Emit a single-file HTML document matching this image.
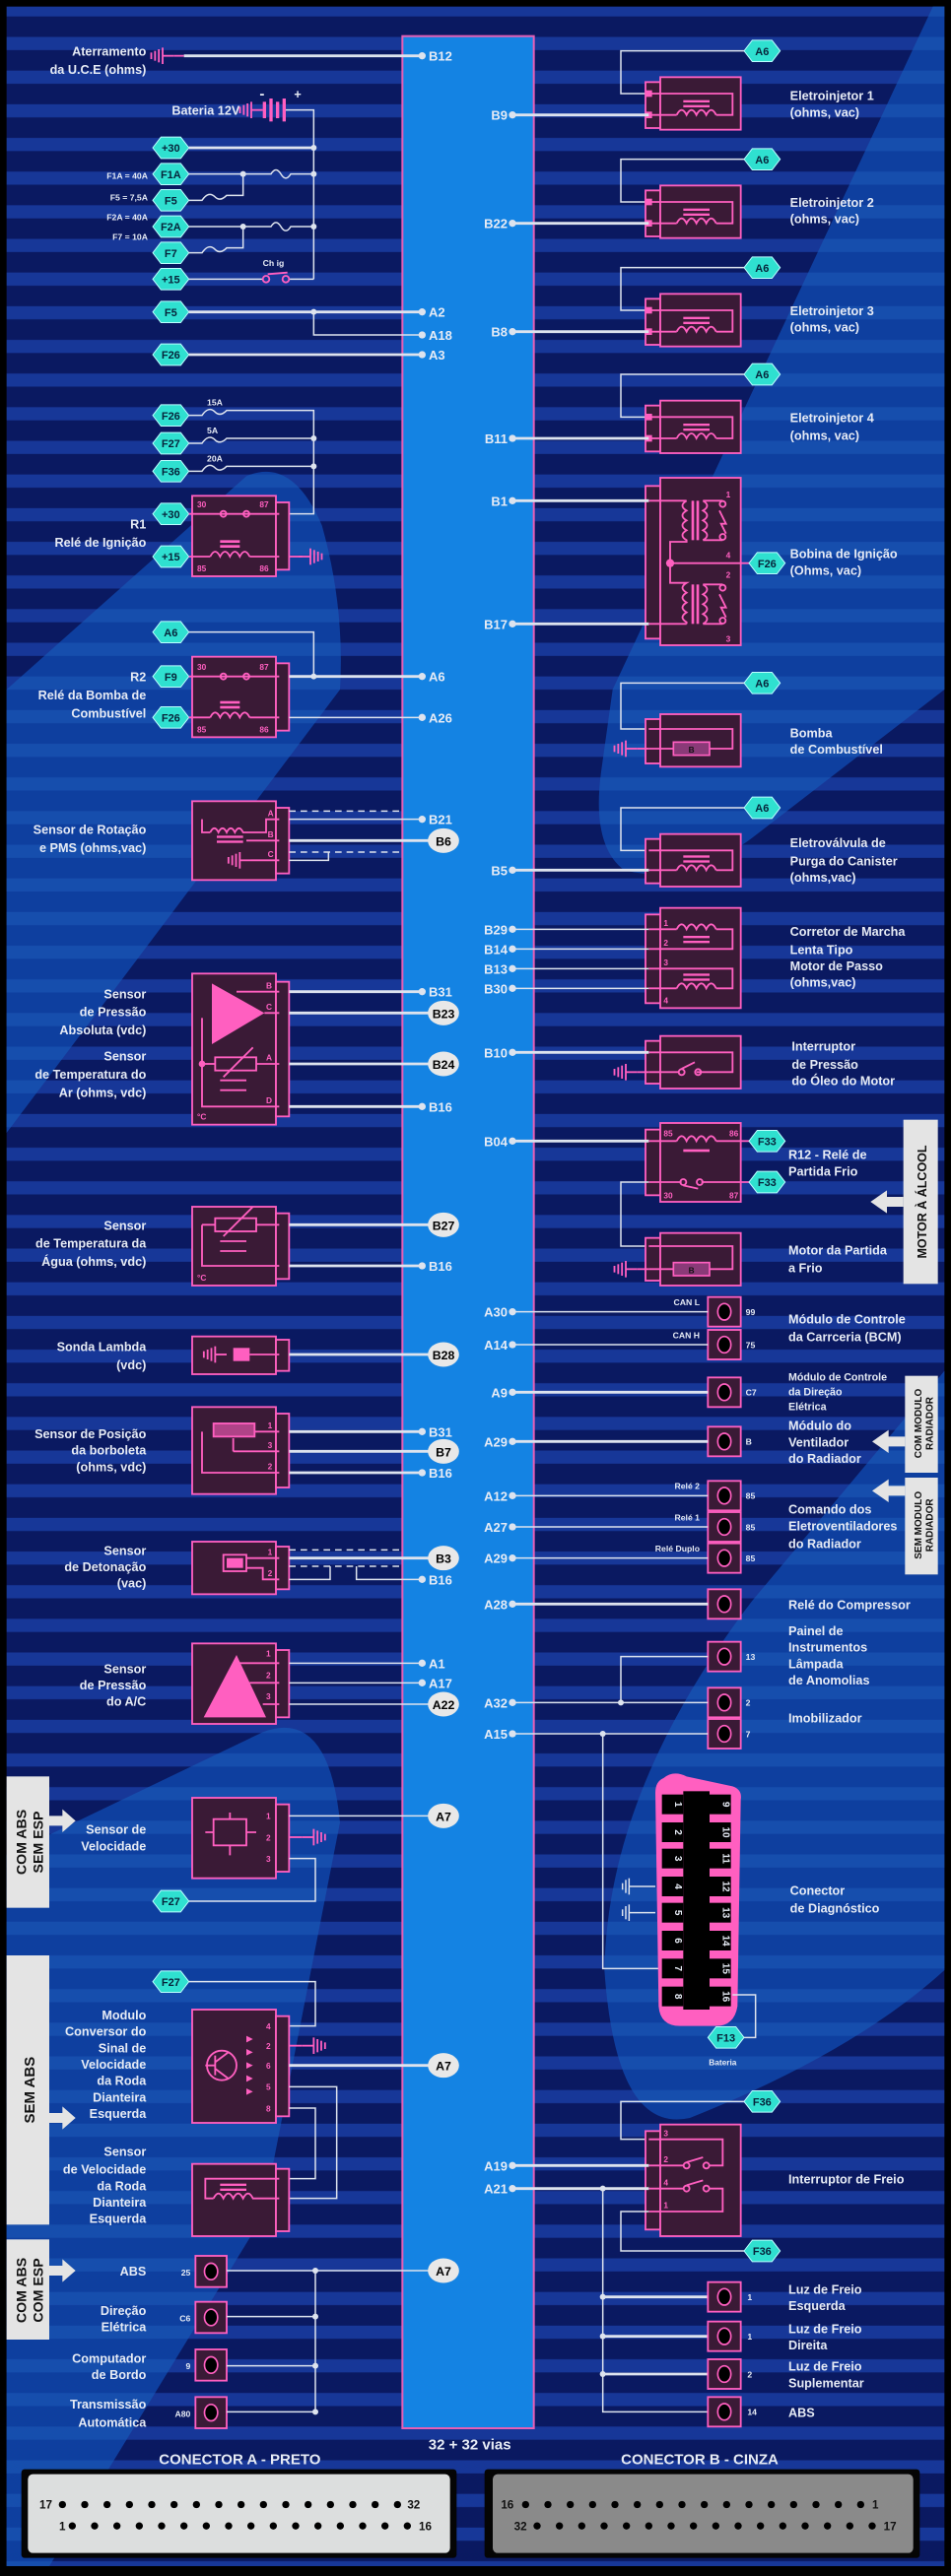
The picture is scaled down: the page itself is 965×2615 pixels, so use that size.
<!DOCTYPE html>
<html><head><meta charset="utf-8">
<style>
html,body{margin:0;padding:0;background:#000;}
svg{display:block;}
.bx{fill:#3a1a36;stroke:#ff5fc0;stroke-width:1.1}
.pk{stroke:#ff5fc0;fill:none;stroke-width:1.1}
.pf{fill:#ff5fc0}
.w{stroke:#dde3ee;stroke-width:1.7;fill:none}
.wt{stroke:#dde3ee;stroke-width:0.9;fill:none}
.dash{stroke:#dde3ee;stroke-width:0.9;fill:none;stroke-dasharray:4 3}
text{font-family:"Liberation Sans",Arial,sans-serif;font-weight:bold;fill:#e6ebf5}
.l{font-size:7.6px}
.le{font-size:7.6px;text-anchor:end}
.s{font-size:5.2px}
.se{font-size:5.2px;text-anchor:end}
.p{font-size:7.8px}
.pe{font-size:7.8px;text-anchor:end}
.h{font-size:6.6px;fill:#06233a;text-anchor:middle}
.c{font-size:7.4px;fill:#000;text-anchor:middle}
.pn{font-size:5px;fill:#ff5fc0}
.dot{fill:#dde3ee}
</style></head>
<body>
<svg width="965" height="2615" viewBox="0 0 579 1569" preserveAspectRatio="none" xmlns="http://www.w3.org/2000/svg">
<defs>
<pattern id="st" patternUnits="userSpaceOnUse" width="579" height="20.5"><rect width="579" height="20.5" fill="#0a1961"/><rect y="2" width="579" height="8" fill="#173798"/></pattern>
<pattern id="st2" patternUnits="userSpaceOnUse" width="579" height="20.5"><rect width="579" height="20.5" fill="#0e3f9f"/><rect y="2" width="579" height="8" fill="#164ead"/></pattern>
<polygon id="hx" points="-11,0 -6,-6.5 6,-6.5 11,0 6,6.5 -6,6.5" fill="#2fe0d0" stroke="#bff" stroke-width="0.6"/>
<g id="gL"><line x1="0" y1="0" x2="7" y2="0" class="pk"/><line x1="0" y1="-5" x2="0" y2="5" class="pk"/><line x1="-2.3" y1="-4" x2="-2.3" y2="4" class="pk"/><line x1="-4.6" y1="-3" x2="-4.6" y2="3" class="pk"/><line x1="-6.9" y1="-2" x2="-6.9" y2="2" class="pk"/></g>
<g id="coil"><path d="M0,0 q3,-6 6,0 q3,-6 6,0 q3,-6 6,0 q3,-6 6,0" class="pk"/><rect x="6" y="-10" width="12" height="1.6" class="pf"/><rect x="6" y="-7" width="12" height="1.6" class="pf"/></g>
</defs>

<rect width="579" height="1569" fill="#000"/>
<rect x="4" y="4" width="571" height="1559" fill="url(#st)"/>
<!-- lighter regions -->
<path d="M568,4 L575,4 L575,420 L461,508 Q420,540 380,530 Q360,515 366,470 L373,420 Z" fill="url(#st2)"/>
<path d="M575,835 L458,975 Q370,1090 368,1200 Q375,1300 420,1290 Q520,1250 575,1200 Z" fill="url(#st2)"/>
<path d="M4,420 L150,290 Q178,278 196,320 Q210,370 207,420 L4,690 Z" fill="url(#st2)"/>
<path d="M4,1130 L160,1055 Q200,1040 207,1110 L160,1350 L30,1563 L4,1563 Z" fill="url(#st2)"/>

<!-- bus -->
<rect x="245" y="22" width="80" height="1457" fill="#1483e3" stroke="#e65fb5" stroke-width="1.2"/>

<!-- ===== LEFT TOP ===== -->
<text class="le" x="89" y="34">Aterramento</text>
<text class="le" x="89" y="45">da  U.C.E (ohms)</text>
<use href="#gL" x="99" y="34"/>
<line x1="106" y1="34" x2="112" y2="34" class="pk" stroke-width="1.6"/>
<line x1="112" y1="34" x2="257" y2="34" class="w"/>
<circle cx="257" cy="34" r="2.2" class="dot"/><text class="p" x="261" y="37">B12</text>

<text class="le" x="146" y="70">Bateria 12V</text>
<use href="#gL" x="153" y="67"/>
<rect x="160" y="62" width="2" height="10" class="pf"/><rect x="164" y="60" width="2" height="14" class="pf"/><rect x="168" y="62" width="2" height="10" class="pf"/><rect x="172" y="60" width="2" height="14" class="pf"/>
<text class="l" x="158" y="60" style="font-size:9px">-</text><text class="l" x="179" y="60">+</text>
<path d="M174,67 L191,67 L191,170" class="wt"/>
<use href="#hx" x="104" y="90"/><text class="h" x="104" y="92.5">+30</text>
<line x1="115" y1="90" x2="191" y2="90" class="w"/>
<use href="#hx" x="104" y="106"/><text class="h" x="104" y="108.5">F1A</text>
<path d="M115,106 L165,106 q3,-5 6,0 q3,5 6,0 L191,106" class="wt"/>
<use href="#hx" x="104" y="122"/><text class="h" x="104" y="124.5">F5</text>
<path d="M115,122 L123,122 q4,-6 8,-2 q3,3 7,-1 L148,119 L148,106" class="wt"/>
<use href="#hx" x="104" y="138"/><text class="h" x="104" y="140.5">F2A</text>
<path d="M115,138 L165,138 q3,-5 6,0 q3,5 6,0 L191,138" class="wt"/>
<use href="#hx" x="104" y="154"/><text class="h" x="104" y="156.5">F7</text>
<path d="M115,154 L123,154 q4,-6 8,-2 q3,3 7,-1 L148,151 L148,138" class="wt"/>
<use href="#hx" x="104" y="170"/><text class="h" x="104" y="172.5">+15</text>
<path d="M115,170 L160,170 M176,170 L191,170" class="wt"/>
<circle cx="162" cy="170" r="2" class="pk"/><circle cx="174" cy="170" r="2" class="pk"/><line x1="163" y1="167" x2="175" y2="166" class="pk"/>
<text class="s" x="160" y="162">Ch ig</text>
<circle cx="191" cy="90" r="1.8" class="dot"/><circle cx="191" cy="106" r="1.8" class="dot"/><circle cx="191" cy="138" r="1.8" class="dot"/><circle cx="148" cy="106" r="1.8" class="dot"/><circle cx="148" cy="138" r="1.8" class="dot"/>
<text class="se" x="90" y="109">F1A = 40A</text><text class="se" x="90" y="122">F5 = 7,5A</text><text class="se" x="90" y="134">F2A = 40A</text><text class="se" x="90" y="146">F7 = 10A</text>

<use href="#hx" x="104" y="190"/><text class="h" x="104" y="192.5">F5</text>
<path d="M115,190 L257,190 M191,190 L191,204 L257,204" class="wt"/><path d="M115,190 L257,190" class="w"/>
<circle cx="191" cy="190" r="1.8" class="dot"/>
<circle cx="257" cy="190" r="2.2" class="dot"/><text class="p" x="261" y="193">A2</text>
<circle cx="257" cy="204" r="2.2" class="dot"/><text class="p" x="261" y="207">A18</text>
<use href="#hx" x="104" y="216"/><text class="h" x="104" y="218.5">F26</text>
<line x1="115" y1="216" x2="257" y2="216" class="w"/>
<circle cx="257" cy="216" r="2.2" class="dot"/><text class="p" x="261" y="219">A3</text>

<!-- fuses F26 F27 F36 -->
<use href="#hx" x="104" y="253"/><text class="h" x="104" y="255.5">F26</text>
<use href="#hx" x="104" y="270"/><text class="h" x="104" y="272.5">F27</text>
<use href="#hx" x="104" y="287"/><text class="h" x="104" y="289.5">F36</text>
<path d="M115,253 L123,253 q4,-6 8,-2 q3,3 7,-1 L191,250 L191,313 L176,313" class="wt"/>
<path d="M115,270 L123,270 q4,-6 8,-2 q3,3 7,-1 L191,267" class="wt"/>
<path d="M115,287 L123,287 q4,-6 8,-2 q3,3 7,-1 L191,284" class="wt"/>
<circle cx="191" cy="267" r="1.8" class="dot"/><circle cx="191" cy="284" r="1.8" class="dot"/>
<text class="s" x="126" y="247">15A</text><text class="s" x="126" y="264">5A</text><text class="s" x="126" y="281">20A</text>

<!-- R1 -->
<rect x="117" y="302" width="51" height="49" class="bx"/><rect x="168" y="306" width="8" height="41" class="bx"/>
<use href="#hx" x="104" y="313"/><text class="h" x="104" y="315.5">+30</text>
<use href="#hx" x="104" y="339"/><text class="h" x="104" y="341.5">+15</text>
<line x1="115" y1="313" x2="170" y2="313" class="pk"/><circle cx="136" cy="313" r="1.8" fill="#3a1a36" class="pk"/><circle cx="150" cy="313" r="1.8" fill="#3a1a36" class="pk"/>
<line x1="115" y1="339" x2="128" y2="339" class="pk"/><use href="#coil" x="128" y="339"/><line x1="152" y1="339" x2="170" y2="339" class="pk"/>
<text class="pn" x="120" y="309">30</text><text class="pn" x="158" y="309">87</text><text class="pn" x="120" y="348">85</text><text class="pn" x="158" y="348">86</text>
<use href="#gL" x="189" y="339" transform="translate(378,0) scale(-1,1)"/>
<line x1="176" y1="339" x2="184" y2="339" class="pk"/>
<text class="le" x="89" y="322">R1</text><text class="le" x="89" y="333">Relé de Ignição</text>

<!-- R2 -->
<use href="#hx" x="104" y="385"/><text class="h" x="104" y="387.5">A6</text>
<path d="M115,385 L191,385 L191,412" class="wt"/>
<rect x="117" y="400" width="51" height="49" class="bx"/><rect x="168" y="404" width="8" height="41" class="bx"/>
<use href="#hx" x="104" y="412"/><text class="h" x="104" y="414.5">F9</text>
<use href="#hx" x="104" y="437"/><text class="h" x="104" y="439.5">F26</text>
<line x1="115" y1="412" x2="170" y2="412" class="pk"/><circle cx="136" cy="412" r="1.8" fill="#3a1a36" class="pk"/><circle cx="150" cy="412" r="1.8" fill="#3a1a36" class="pk"/>
<line x1="115" y1="437" x2="128" y2="437" class="pk"/><use href="#coil" x="128" y="437"/><line x1="152" y1="437" x2="170" y2="437" class="pk"/>
<text class="pn" x="120" y="408">30</text><text class="pn" x="158" y="408">87</text><text class="pn" x="120" y="446">85</text><text class="pn" x="158" y="446">86</text>
<line x1="176" y1="412" x2="257" y2="412" class="w"/><circle cx="191" cy="412" r="1.8" class="dot"/>
<circle cx="257" cy="412" r="2.2" class="dot"/><text class="p" x="261" y="415">A6</text>
<line x1="176" y1="437" x2="257" y2="437" class="wt"/>
<circle cx="257" cy="437" r="2.2" class="dot"/><text class="p" x="261" y="440">A26</text>
<text class="le" x="89" y="415">R2</text><text class="le" x="89" y="426">Relé da Bomba de</text><text class="le" x="89" y="437">Combustível</text>

<!-- Sensor rotação -->
<rect x="117" y="488" width="51" height="48" class="bx"/><rect x="168" y="492" width="8" height="40" class="bx"/>
<path d="M123,499 L123,507 L128,507" class="pk"/><path d="M128,507 q2.5,-5 5,0 q2.5,-5 5,0 q2.5,-5 5,0 q2.5,-5 5,0 L162,507 L162,499 L170,499" class="pk"/>
<rect x="132" y="509" width="16" height="1.4" class="pf"/><rect x="132" y="512" width="16" height="1.4" class="pf"/>
<line x1="150" y1="512" x2="170" y2="512" class="pk"/>
<use href="#gL" x="146" y="524"/><line x1="153" y1="524" x2="170" y2="524" class="pk"/>
<text class="pn" x="163" y="497">A</text><text class="pn" x="163" y="510">B</text><text class="pn" x="163" y="522">C</text>
<line x1="176" y1="494" x2="245" y2="494" class="dash"/><line x1="176" y1="519" x2="245" y2="519" class="dash"/>
<path d="M176,524 L200,524 L200,519" class="wt"/>
<line x1="176" y1="499" x2="257" y2="499" class="wt"/><circle cx="257" cy="499" r="2.2" class="dot"/><text class="p" x="261" y="502">B21</text>
<line x1="176" y1="512" x2="262" y2="512" class="w"/><ellipse cx="270" cy="512" rx="9.5" ry="7.5" fill="#e8e8e8"/><text class="c" x="270" y="515">B6</text>
<text class="le" x="89" y="508">Sensor de Rotação</text><text class="le" x="89" y="519">e PMS (ohms,vac)</text>

<!-- MAP / temp ar -->
<rect x="117" y="593" width="51" height="92" class="bx"/><rect x="168" y="598" width="8" height="82" class="bx"/>
<polygon points="129,599 129,636 161,617" class="pf"/>
<path d="M144,604 L170,604 M161,617 L170,617 M123,620 L123,674 L170,674" class="pk"/>
<circle cx="123" cy="648" r="2" class="pf"/>
<path d="M123,648 L131,648" class="pk"/><rect x="131" y="644" width="25" height="8" class="pk"/><line x1="136" y1="656" x2="154" y2="638" class="pk"/>
<line x1="156" y1="648" x2="170" y2="648" class="pk"/>
<path d="M134,658 L150,658 M134,664 L150,664" class="pk" stroke-width="1.6"/>
<text class="pn" x="120" y="682">°C</text>
<text class="pn" x="162" y="602">B</text><text class="pn" x="162" y="615">C</text><text class="pn" x="162" y="646">A</text><text class="pn" x="162" y="672">D</text>
<line x1="176" y1="604" x2="257" y2="604" class="w"/><circle cx="257" cy="604" r="2.2" class="dot"/><text class="p" x="261" y="607">B31</text>
<line x1="176" y1="617" x2="262" y2="617" class="w"/><ellipse cx="270" cy="617" rx="9.5" ry="7.5" fill="#e8e8e8"/><text class="c" x="270" y="620">B23</text>
<line x1="176" y1="648" x2="262" y2="648" class="w"/><ellipse cx="270" cy="648" rx="9.5" ry="7.5" fill="#e8e8e8"/><text class="c" x="270" y="651">B24</text>
<line x1="176" y1="674" x2="257" y2="674" class="w"/><circle cx="257" cy="674" r="2.2" class="dot"/><text class="p" x="261" y="677">B16</text>
<text class="le" x="89" y="608">Sensor</text><text class="le" x="89" y="619">de Pressão</text><text class="le" x="89" y="630">Absoluta (vdc)</text>
<text class="le" x="89" y="646">Sensor</text><text class="le" x="89" y="657">de Temperatura do</text><text class="le" x="89" y="668">Ar (ohms, vdc)</text>

<!-- temp agua -->
<rect x="117" y="735" width="51" height="48" class="bx"/><rect x="168" y="739" width="8" height="40" class="bx"/>
<rect x="131" y="742" width="25" height="8" class="pk"/><line x1="136" y1="753" x2="154" y2="735" class="pk"/>
<path d="M123,746 L131,746 M156,746 L170,746 M123,746 L123,771 L170,771" class="pk"/>
<path d="M134,756 L150,756 M134,762 L150,762" class="pk" stroke-width="1.6"/>
<text class="pn" x="120" y="780">°C</text>
<line x1="176" y1="746" x2="262" y2="746" class="w"/><ellipse cx="270" cy="746" rx="9.5" ry="7.5" fill="#e8e8e8"/><text class="c" x="270" y="749">B27</text>
<line x1="176" y1="771" x2="257" y2="771" class="w"/><circle cx="257" cy="771" r="2.2" class="dot"/><text class="p" x="261" y="774">B16</text>
<text class="le" x="89" y="749">Sensor</text><text class="le" x="89" y="760">de Temperatura da</text><text class="le" x="89" y="771">Água (ohms, vdc)</text>

<!-- sonda -->
<rect x="117" y="814" width="51" height="23" class="bx"/><rect x="168" y="816" width="8" height="19" class="bx"/>
<use href="#gL" x="131" y="825"/><rect x="142" y="821" width="10" height="8" class="pf"/><line x1="152" y1="825" x2="170" y2="825" class="pk"/>
<line x1="176" y1="825" x2="262" y2="825" class="w"/><ellipse cx="270" cy="825" rx="9.5" ry="7.5" fill="#e8e8e8"/><text class="c" x="270" y="828">B28</text>
<text class="le" x="89" y="823">Sonda Lambda</text><text class="le" x="89" y="834">(vdc)</text>

<!-- TPS -->
<rect x="117" y="857" width="51" height="53" class="bx"/><rect x="168" y="861" width="8" height="45" class="bx"/>
<rect x="130" y="867" width="25" height="8" class="pf" fill-opacity="0.6"/><rect x="130" y="867" width="25" height="8" class="pk"/>
<path d="M123,872 L123,897 L170,897 M155,872 L170,872 M142,884 L170,884 M142,884 L142,876" class="pk"/>
<text class="pn" x="163" y="870">1</text><text class="pn" x="163" y="882">3</text><text class="pn" x="163" y="895">2</text>
<line x1="176" y1="872" x2="257" y2="872" class="w"/><circle cx="257" cy="872" r="2.2" class="dot"/><text class="p" x="261" y="875">B31</text>
<line x1="176" y1="884" x2="262" y2="884" class="w"/><ellipse cx="270" cy="884" rx="9.5" ry="7.5" fill="#e8e8e8"/><text class="c" x="270" y="887">B7</text>
<line x1="176" y1="897" x2="257" y2="897" class="w"/><circle cx="257" cy="897" r="2.2" class="dot"/><text class="p" x="261" y="900">B16</text>
<text class="le" x="89" y="876">Sensor de  Posição</text><text class="le" x="89" y="886">da borboleta</text><text class="le" x="89" y="896">(ohms, vdc)</text>

<!-- detonação -->
<rect x="117" y="939" width="51" height="32" class="bx"/><rect x="168" y="942" width="8" height="26" class="bx"/>
<rect x="136" y="947" width="14" height="10" class="pk"/><rect x="138" y="949" width="10" height="6" class="pf"/><path d="M150,949 L170,949 M150,955 L160,955 L160,962 L170,962" class="pk"/>
<text class="pn" x="163" y="947">1</text><text class="pn" x="163" y="960">2</text>
<line x1="176" y1="944" x2="245" y2="944" class="dash"/><line x1="176" y1="954" x2="245" y2="954" class="dash"/>
<path d="M176,962 L201,962 L201,954 M217,954 L217,962 L257,962" class="wt"/>
<line x1="176" y1="949" x2="262" y2="949" class="w"/><ellipse cx="270" cy="949" rx="9.5" ry="7.5" fill="#e8e8e8"/><text class="c" x="270" y="952">B3</text>
<circle cx="257" cy="962" r="2.2" class="dot"/><text class="p" x="261" y="965">B16</text>
<text class="le" x="89" y="947">Sensor</text><text class="le" x="89" y="957">de Detonação</text><text class="le" x="89" y="967">(vac)</text>

<!-- A/C -->
<rect x="117" y="1001" width="51" height="49" class="bx"/><rect x="168" y="1005" width="8" height="41" class="bx"/>
<polygon points="124,1046 144,1008 162,1046" class="pf"/>
<path d="M144,1013 L170,1013 M152,1025 L170,1025 M160,1038 L170,1038" class="pk"/>
<text class="pn" x="162" y="1009">1</text><text class="pn" x="162" y="1022">2</text><text class="pn" x="162" y="1035">3</text>
<line x1="176" y1="1013" x2="257" y2="1013" class="wt"/><circle cx="257" cy="1013" r="2.2" class="dot"/><text class="p" x="261" y="1016">A1</text>
<line x1="176" y1="1025" x2="257" y2="1025" class="wt"/><circle cx="257" cy="1025" r="2.2" class="dot"/><text class="p" x="261" y="1028">A17</text>
<line x1="176" y1="1038" x2="262" y2="1038" class="wt"/><ellipse cx="270" cy="1038" rx="9.5" ry="7.5" fill="#e8e8e8"/><text class="c" x="270" y="1041">A22</text>
<text class="le" x="89" y="1019">Sensor</text><text class="le" x="89" y="1029">de Pressão</text><text class="le" x="89" y="1039">do A/C</text>

<!-- Velocidade -->
<rect x="4" y="1082" width="26" height="80" fill="#e4e4e4"/>
<text transform="translate(16,1122) rotate(-90)" style="font-size:8.5px;fill:#111;text-anchor:middle">COM ABS</text>
<text transform="translate(26,1122) rotate(-90)" style="font-size:8.5px;fill:#111;text-anchor:middle">SEM ESP</text>
<polygon points="30,1106 38,1106 38,1102 46,1109 38,1116 38,1112 30,1112" fill="#e4e4e4"/>
<rect x="117" y="1095" width="51" height="49" class="bx"/><rect x="168" y="1099" width="8" height="41" class="bx"/>
<rect x="130" y="1108" width="20" height="16" class="pk"/><path d="M125,1116 L130,1116 M150,1116 L156,1116 M140,1104 L140,1108 M140,1124 L140,1130" class="pk"/>
<text class="pn" x="162" y="1108">1</text><text class="pn" x="162" y="1121">2</text><text class="pn" x="162" y="1134">3</text>
<line x1="176" y1="1106" x2="262" y2="1106" class="wt"/><ellipse cx="270" cy="1106" rx="9.5" ry="7.5" fill="#e8e8e8"/><text class="c" x="270" y="1109">A7</text>
<line x1="176" y1="1119" x2="184" y2="1119" class="pk"/><use href="#gL" x="191" y="1119" transform="translate(382,0) scale(-1,1)"/>
<path d="M176,1132 L192,1132 L192,1158 L115,1158" class="wt"/>
<use href="#hx" x="104" y="1158"/><text class="h" x="104" y="1160.5">F27</text>
<text class="le" x="89" y="1117">Sensor de</text><text class="le" x="89" y="1127">Velocidade</text>

<!-- SEM ABS -->
<rect x="4" y="1191" width="26" height="164" fill="#e4e4e4"/>
<text transform="translate(21,1273) rotate(-90)" style="font-size:9px;fill:#111;text-anchor:middle">SEM ABS</text>
<polygon points="30,1287 38,1287 38,1283 46,1290 38,1297 38,1293 30,1293" fill="#e4e4e4"/>
<use href="#hx" x="104" y="1207"/><text class="h" x="104" y="1209.5">F27</text>
<path d="M115,1207 L192,1207 L192,1234 L176,1234" class="wt"/>
<rect x="117" y="1224" width="51" height="69" class="bx"/><rect x="168" y="1228" width="8" height="61" class="bx"/>
<circle cx="135" cy="1258" r="9" class="pk"/><path d="M131,1252 L131,1264 M131,1258 L125,1258 M131,1256 L139,1250 M131,1260 L139,1266" class="pk"/>
<path d="M150,1240 l4,2 l-4,2 z M150,1248 l4,2 l-4,2 z M150,1256 l4,2 l-4,2 z M150,1264 l4,2 l-4,2 z M150,1272 l4,2 l-4,2 z" class="pf"/>
<text class="pn" x="162" y="1236">4</text><text class="pn" x="162" y="1248">2</text><text class="pn" x="162" y="1260">6</text><text class="pn" x="162" y="1273">5</text><text class="pn" x="162" y="1286">8</text>
<line x1="176" y1="1246" x2="184" y2="1246" class="pk"/><use href="#gL" x="191" y="1246" transform="translate(382,0) scale(-1,1)"/>
<line x1="176" y1="1258" x2="262" y2="1258" class="w"/><ellipse cx="270" cy="1258" rx="9.5" ry="7.5" fill="#e8e8e8"/><text class="c" x="270" y="1261">A7</text>
<path d="M176,1271 L205,1271 L205,1339 L176,1339 M176,1284 L192,1284 L192,1327 L176,1327" class="wt"/>
<rect x="117" y="1318" width="51" height="44" class="bx"/><rect x="168" y="1321" width="8" height="38" class="bx"/>
<path d="M170,1327 L125,1327 L125,1339 L130,1339" class="pk"/><path d="M130,1339 q3,-6 6,0 q3,-6 6,0 q3,-6 6,0 q3,-6 6,0 L170,1339" class="pk"/>
<rect x="134" y="1330" width="16" height="1.4" class="pf"/><rect x="134" y="1333" width="16" height="1.4" class="pf"/>
<text class="le" x="89" y="1230">Modulo</text><text class="le" x="89" y="1240">Conversor do</text><text class="le" x="89" y="1250">Sinal de</text><text class="le" x="89" y="1260">Velocidade</text><text class="le" x="89" y="1270">da Roda</text><text class="le" x="89" y="1280">Dianteira</text><text class="le" x="89" y="1290">Esquerda</text>
<text class="le" x="89" y="1313">Sensor</text><text class="le" x="89" y="1324">de Velocidade</text><text class="le" x="89" y="1334">da Roda</text><text class="le" x="89" y="1344">Dianteira</text><text class="le" x="89" y="1354">Esquerda</text>

<!-- COM ABS COM ESP -->
<rect x="4" y="1364" width="26" height="61" fill="#e4e4e4"/>
<text transform="translate(16,1395) rotate(-90)" style="font-size:8.5px;fill:#111;text-anchor:middle">COM ABS</text>
<text transform="translate(26,1395) rotate(-90)" style="font-size:8.5px;fill:#111;text-anchor:middle">COM ESP</text>
<polygon points="30,1380 38,1380 38,1376 46,1383 38,1390 38,1386 30,1386" fill="#e4e4e4"/>
<g>
<rect x="119" y="1374" width="19" height="19" class="bx"/><ellipse cx="128.5" cy="1383.5" rx="4" ry="5" fill="#000" stroke="#ff5fc0"/>
<rect x="119" y="1402" width="19" height="19" class="bx"/><ellipse cx="128.5" cy="1411.5" rx="4" ry="5" fill="#000" stroke="#ff5fc0"/>
<rect x="119" y="1431" width="19" height="19" class="bx"/><ellipse cx="128.5" cy="1440.5" rx="4" ry="5" fill="#000" stroke="#ff5fc0"/>
<rect x="119" y="1460" width="19" height="19" class="bx"/><ellipse cx="128.5" cy="1469.5" rx="4" ry="5" fill="#000" stroke="#ff5fc0"/>
</g>
<text class="se" x="116" y="1386">25</text><text class="se" x="116" y="1414">C6</text><text class="se" x="116" y="1443">9</text><text class="se" x="116" y="1472">A80</text>
<path d="M138,1383 L262,1383 M138,1411 L192,1411 M138,1441 L192,1441 M138,1469 L192,1469 M192,1383 L192,1469" class="wt"/>
<circle cx="192" cy="1383" r="1.8" class="dot"/><circle cx="192" cy="1411" r="1.8" class="dot"/><circle cx="192" cy="1441" r="1.8" class="dot"/><circle cx="192" cy="1469" r="1.8" class="dot"/>
<ellipse cx="270" cy="1383" rx="9.5" ry="7.5" fill="#e8e8e8"/><text class="c" x="270" y="1386">A7</text>
<text class="le" x="89" y="1386">ABS</text>
<text class="le" x="89" y="1410">Direção</text><text class="le" x="89" y="1420">Elétrica</text>
<text class="le" x="89" y="1439">Computador</text><text class="le" x="89" y="1449">de Bordo</text>
<text class="le" x="89" y="1467">Transmissão</text><text class="le" x="89" y="1478">Automática</text>

<!-- bottom texts and connectors -->
<text x="286" y="1492" style="font-size:9px;text-anchor:middle">32 + 32 vias</text>
<text x="146" y="1501" style="font-size:9px;text-anchor:middle">CONECTOR A - PRETO</text>
<text x="426" y="1501" style="font-size:9px;text-anchor:middle">CONECTOR B - CINZA</text>
<rect x="13" y="1504" width="265" height="54" rx="2" fill="#050505"/>
<rect x="17" y="1507" width="257" height="48" rx="3" fill="#dcdede"/>
<rect x="295" y="1504" width="265" height="54" rx="2" fill="#050505"/>
<rect x="300" y="1507" width="256" height="48" rx="3" fill="#8a8a8a"/>
<g fill="#000">
<text x="24" y="1528" style="font-size:7px;fill:#111">17</text><text x="248" y="1528" style="font-size:7px;fill:#111">32</text>
<text x="36" y="1541" style="font-size:7px;fill:#111">1</text><text x="255" y="1541" style="font-size:7px;fill:#111">16</text>
<text x="305" y="1528" style="font-size:7px;fill:#111">16</text><text x="531" y="1528" style="font-size:7px;fill:#111">1</text>
<text x="313" y="1541" style="font-size:7px;fill:#111">32</text><text x="538" y="1541" style="font-size:7px;fill:#111">17</text>
<circle cx="38.0" cy="1525.5" r="2.2"/><circle cx="51.6" cy="1525.5" r="2.2"/><circle cx="65.2" cy="1525.5" r="2.2"/><circle cx="78.8" cy="1525.5" r="2.2"/><circle cx="92.4" cy="1525.5" r="2.2"/><circle cx="106.0" cy="1525.5" r="2.2"/><circle cx="119.6" cy="1525.5" r="2.2"/><circle cx="133.2" cy="1525.5" r="2.2"/><circle cx="146.8" cy="1525.5" r="2.2"/><circle cx="160.4" cy="1525.5" r="2.2"/><circle cx="174.0" cy="1525.5" r="2.2"/><circle cx="187.6" cy="1525.5" r="2.2"/><circle cx="201.2" cy="1525.5" r="2.2"/><circle cx="214.8" cy="1525.5" r="2.2"/><circle cx="228.4" cy="1525.5" r="2.2"/><circle cx="242.0" cy="1525.5" r="2.2"/>
<circle cx="44.0" cy="1538.5" r="2.2"/><circle cx="57.6" cy="1538.5" r="2.2"/><circle cx="71.2" cy="1538.5" r="2.2"/><circle cx="84.8" cy="1538.5" r="2.2"/><circle cx="98.4" cy="1538.5" r="2.2"/><circle cx="112.0" cy="1538.5" r="2.2"/><circle cx="125.6" cy="1538.5" r="2.2"/><circle cx="139.2" cy="1538.5" r="2.2"/><circle cx="152.8" cy="1538.5" r="2.2"/><circle cx="166.4" cy="1538.5" r="2.2"/><circle cx="180.0" cy="1538.5" r="2.2"/><circle cx="193.6" cy="1538.5" r="2.2"/><circle cx="207.2" cy="1538.5" r="2.2"/><circle cx="220.8" cy="1538.5" r="2.2"/><circle cx="234.4" cy="1538.5" r="2.2"/><circle cx="248.0" cy="1538.5" r="2.2"/>
<circle cx="320.0" cy="1525.5" r="2.2"/><circle cx="333.6" cy="1525.5" r="2.2"/><circle cx="347.2" cy="1525.5" r="2.2"/><circle cx="360.8" cy="1525.5" r="2.2"/><circle cx="374.4" cy="1525.5" r="2.2"/><circle cx="388.0" cy="1525.5" r="2.2"/><circle cx="401.6" cy="1525.5" r="2.2"/><circle cx="415.2" cy="1525.5" r="2.2"/><circle cx="428.8" cy="1525.5" r="2.2"/><circle cx="442.4" cy="1525.5" r="2.2"/><circle cx="456.0" cy="1525.5" r="2.2"/><circle cx="469.6" cy="1525.5" r="2.2"/><circle cx="483.2" cy="1525.5" r="2.2"/><circle cx="496.8" cy="1525.5" r="2.2"/><circle cx="510.4" cy="1525.5" r="2.2"/><circle cx="524.0" cy="1525.5" r="2.2"/>
<circle cx="327.0" cy="1538.5" r="2.2"/><circle cx="340.6" cy="1538.5" r="2.2"/><circle cx="354.2" cy="1538.5" r="2.2"/><circle cx="367.8" cy="1538.5" r="2.2"/><circle cx="381.4" cy="1538.5" r="2.2"/><circle cx="395.0" cy="1538.5" r="2.2"/><circle cx="408.6" cy="1538.5" r="2.2"/><circle cx="422.2" cy="1538.5" r="2.2"/><circle cx="435.8" cy="1538.5" r="2.2"/><circle cx="449.4" cy="1538.5" r="2.2"/><circle cx="463.0" cy="1538.5" r="2.2"/><circle cx="476.6" cy="1538.5" r="2.2"/><circle cx="490.2" cy="1538.5" r="2.2"/><circle cx="503.8" cy="1538.5" r="2.2"/><circle cx="517.4" cy="1538.5" r="2.2"/><circle cx="531.0" cy="1538.5" r="2.2"/>
</g>

<!-- ===== RIGHT SIDE ===== -->
<!-- injectors -->
<g id="inj">
<use href="#hx" x="464" y="31"/><text class="h" x="464" y="33.5">A6</text>
<path d="M453,31 L378,31 L378,57 L395,57" class="wt"/>
<rect x="393" y="50" width="9" height="28" class="bx"/><rect x="402" y="47" width="49" height="32" class="bx"/>
<path d="M395,57 L446,57 L446,70 L436,70" class="pk"/><path d="M412,70 q3,-6 6,0 q3,-6 6,0 q3,-6 6,0 q3,-6 6,0" class="pk"/><path d="M395,70 L412,70" class="pk"/>
<rect x="416" y="61" width="16" height="1.4" class="pf"/><rect x="416" y="64" width="16" height="1.4" class="pf"/>
<rect x="393" y="55" width="4" height="4" class="pf"/><rect x="393" y="68" width="4" height="4" class="pf"/>
</g>
<use href="#inj" y="66"/><use href="#inj" y="132"/><use href="#inj" y="197"/>
<path d="M312,70 L395,70 M312,136 L395,136 M312,202 L395,202 M312,267 L395,267" class="w"/>
<circle cx="312" cy="70" r="2.2" class="dot"/><text class="pe" x="309" y="73">B9</text>
<circle cx="312" cy="136" r="2.2" class="dot"/><text class="pe" x="309" y="139">B22</text>
<circle cx="312" cy="202" r="2.2" class="dot"/><text class="pe" x="309" y="205">B8</text>
<circle cx="312" cy="267" r="2.2" class="dot"/><text class="pe" x="309" y="270">B11</text>
<text class="l" x="481" y="61">Eletroinjetor 1</text><text class="l" x="481" y="71">(ohms, vac)</text>
<text class="l" x="481" y="126">Eletroinjetor 2</text><text class="l" x="481" y="136">(ohms, vac)</text>
<text class="l" x="481" y="192">Eletroinjetor 3</text><text class="l" x="481" y="202">(ohms, vac)</text>
<text class="l" x="481" y="257">Eletroinjetor 4</text><text class="l" x="481" y="268">(ohms, vac)</text>

<!-- bobina -->
<rect x="393" y="296" width="9" height="93" class="bx"/><rect x="402" y="291" width="49" height="102" class="bx"/>
<path d="M395,305 L418,305 M395,380 L418,380" class="pk"/>
<path d="M418,305 q-5,3 0,6 q-5,3 0,6 q-5,3 0,6 q-5,3 0,6 L418,330 L408,330 L408,355 L418,355 q-5,3 0,6 q-5,3 0,6 q-5,3 0,6 q-5,3 0,6 L418,380" class="pk"/>
<rect x="421" y="305" width="1.6" height="24" class="pf"/><rect x="424" y="305" width="1.6" height="24" class="pf"/>
<rect x="421" y="356" width="1.6" height="24" class="pf"/><rect x="424" y="356" width="1.6" height="24" class="pf"/>
<path d="M428,305 q5,3 0,6 q5,3 0,6 q5,3 0,6 q5,3 0,6 M428,356 q5,3 0,6 q5,3 0,6 q5,3 0,6 q5,3 0,6" class="pk"/>
<path d="M428,305 L440,305 M428,329 L440,329 M428,356 L440,356 M428,380 L440,380" class="pk"/>
<circle cx="440" cy="307" r="1.8" fill="#3a1a36" class="pk"/><circle cx="440" cy="327" r="1.8" fill="#3a1a36" class="pk"/><circle cx="440" cy="358" r="1.8" fill="#3a1a36" class="pk"/><circle cx="440" cy="378" r="1.8" fill="#3a1a36" class="pk"/>
<path d="M438,311 l4,8 l-3,0 l3,6 M438,362 l4,8 l-3,0 l3,6" class="pk"/>
<line x1="408" y1="343" x2="456" y2="343" class="pk" stroke-width="1.6"/><circle cx="408" cy="343" r="2.5" class="pf"/>
<text class="pn" x="442" y="303">1</text><text class="pn" x="442" y="340">4</text><text class="pn" x="442" y="352">2</text><text class="pn" x="442" y="391">3</text>
<use href="#hx" x="467" y="343"/><text class="h" x="467" y="345.5">F26</text>
<path d="M312,305 L395,305 M312,380 L395,380" class="w"/>
<circle cx="312" cy="305" r="2.2" class="dot"/><text class="pe" x="309" y="308">B1</text>
<circle cx="312" cy="380" r="2.2" class="dot"/><text class="pe" x="309" y="383">B17</text>
<text class="l" x="481" y="340">Bobina de Ignição</text><text class="l" x="481" y="350">(Ohms, vac)</text>

<!-- bomba -->
<use href="#hx" x="464" y="416"/><text class="h" x="464" y="418.5">A6</text>
<path d="M453,416 L378,416 L378,444 L395,444" class="wt"/>
<rect x="393" y="438" width="9" height="27" class="bx"/><rect x="402" y="435" width="49" height="32" class="bx"/>
<path d="M395,444 L446,444 L446,456 L432,456 M395,456 L410,456" class="pk"/><rect x="410" y="452" width="22" height="8" fill="#8a3a78" stroke="#ff5fc0"/><text x="421" y="458.5" style="font-size:5px;fill:#111;text-anchor:middle">B</text>
<use href="#gL" x="381" y="456"/><line x1="388" y1="456" x2="395" y2="456" class="pk"/>
<text class="l" x="481" y="449">Bomba</text><text class="l" x="481" y="459">de Combustível</text>

<!-- canister -->
<use href="#hx" x="464" y="492"/><text class="h" x="464" y="494.5">A6</text>
<path d="M453,492 L378,492 L378,518 L395,518" class="wt"/>
<rect x="393" y="511" width="9" height="27" class="bx"/><rect x="402" y="508" width="49" height="32" class="bx"/>
<path d="M395,518 L446,518 L446,530 L436,530 M395,530 L412,530" class="pk"/><path d="M412,530 q3,-6 6,0 q3,-6 6,0 q3,-6 6,0 q3,-6 6,0" class="pk"/>
<rect x="416" y="521" width="16" height="1.4" class="pf"/><rect x="416" y="524" width="16" height="1.4" class="pf"/>
<line x1="312" y1="530" x2="395" y2="530" class="w"/><circle cx="312" cy="530" r="2.2" class="dot"/><text class="pe" x="309" y="533">B5</text>
<text class="l" x="481" y="516">Eletroválvula de</text><text class="l" x="481" y="527">Purga  do Canister</text><text class="l" x="481" y="537">(ohms,vac)</text>

<!-- corretor -->
<rect x="393" y="557" width="9" height="54" class="bx"/><rect x="402" y="553" width="49" height="61" class="bx"/>
<path d="M395,566 L412,566 M395,602 L412,602 M395,578 L446,578 L446,566 L436,566 M395,590 L446,590 L446,602 L436,602" class="pk"/>
<path d="M412,566 q3,-6 6,0 q3,-6 6,0 q3,-6 6,0 q3,-6 6,0 M412,602 q3,-6 6,0 q3,-6 6,0 q3,-6 6,0 q3,-6 6,0" class="pk"/>
<rect x="416" y="570" width="16" height="1.4" class="pf"/><rect x="416" y="573" width="16" height="1.4" class="pf"/><rect x="416" y="593" width="16" height="1.4" class="pf"/><rect x="416" y="596" width="16" height="1.4" class="pf"/>
<text class="pn" x="404" y="564">1</text><text class="pn" x="404" y="576">2</text><text class="pn" x="404" y="588">3</text><text class="pn" x="404" y="611">4</text>
<path d="M312,566 L395,566 M312,578 L395,578 M312,590 L395,590 M312,602 L395,602" class="wt"/>
<circle cx="312" cy="566" r="2.2" class="dot"/><text class="pe" x="309" y="569">B29</text>
<circle cx="312" cy="578" r="2.2" class="dot"/><text class="pe" x="309" y="581">B14</text>
<circle cx="312" cy="590" r="2.2" class="dot"/><text class="pe" x="309" y="593">B13</text>
<circle cx="312" cy="602" r="2.2" class="dot"/><text class="pe" x="309" y="605">B30</text>
<text class="l" x="481" y="570">Corretor de Marcha</text><text class="l" x="481" y="581">Lenta Tipo</text><text class="l" x="481" y="591">Motor de Passo</text><text class="l" x="481" y="601">(ohms,vac)</text>

<!-- oleo -->
<rect x="393" y="634" width="9" height="26" class="bx"/><rect x="402" y="631" width="49" height="32" class="bx"/>
<path d="M395,641 L446,641 L446,653 L424,653 M395,653 L413,653" class="pk"/><circle cx="415" cy="653" r="1.8" fill="#3a1a36" class="pk"/><circle cx="425" cy="653" r="1.8" fill="#3a1a36" class="pk"/><line x1="415" y1="651" x2="423" y2="647" class="pk"/>
<use href="#gL" x="381" y="653"/><line x1="388" y1="653" x2="395" y2="653" class="pk"/>
<line x1="312" y1="641" x2="395" y2="641" class="w"/><circle cx="312" cy="641" r="2.2" class="dot"/><text class="pe" x="309" y="644">B10</text>
<text class="l" x="482" y="640">Interruptor</text><text class="l" x="482" y="651">de Pressão</text><text class="l" x="482" y="661">do Óleo do Motor</text>

<!-- R12 -->
<rect x="393" y="688" width="9" height="40" class="bx"/><rect x="402" y="684" width="49" height="48" class="bx"/>
<path d="M395,695 L412,695 M436,695 L456,695" class="pk"/><path d="M412,695 q3,-6 6,0 q3,-6 6,0 q3,-6 6,0 q3,-6 6,0" class="pk"/>
<rect x="416" y="700" width="16" height="1.6" class="pf"/>
<path d="M395,720 L415,720 M427,720 L456,720" class="pk"/><circle cx="416" cy="720" r="1.8" fill="#3a1a36" class="pk"/><circle cx="426" cy="720" r="1.8" fill="#3a1a36" class="pk"/><line x1="416" y1="722" x2="425" y2="724" class="pk"/>
<text class="pn" x="404" y="692">85</text><text class="pn" x="444" y="692">86</text><text class="pn" x="404" y="730">30</text><text class="pn" x="444" y="730">87</text>
<use href="#hx" x="467" y="695"/><text class="h" x="467" y="697.5">F33</text>
<use href="#hx" x="467" y="720"/><text class="h" x="467" y="722.5">F33</text>
<line x1="312" y1="695" x2="395" y2="695" class="w"/><circle cx="312" cy="695" r="2.2" class="dot"/><text class="pe" x="309" y="698">B04</text>
<path d="M395,720 L378,720 L378,759 L395,759" class="wt"/>
<text class="l" x="480" y="706">R12 - Relé de</text><text class="l" x="480" y="716">Partida Frio</text>
<rect x="393" y="754" width="9" height="26" class="bx"/><rect x="402" y="751" width="49" height="32" class="bx"/>
<path d="M395,759 L446,759 L446,773 L432,773 M395,773 L410,773" class="pk"/><rect x="410" y="769" width="22" height="8" fill="#8a3a78" stroke="#ff5fc0"/><text x="421" y="775.5" style="font-size:5px;fill:#111;text-anchor:middle">B</text>
<use href="#gL" x="381" y="773"/><line x1="388" y1="773" x2="395" y2="773" class="pk"/>
<text class="l" x="480" y="764">Motor da Partida</text><text class="l" x="480" y="775">a Frio</text>
<rect x="550" y="682" width="21" height="100" fill="#e4e4e4"/>
<text transform="translate(564,732) rotate(-90)" style="font-size:7.5px;fill:#111;text-anchor:middle">MOTOR À ÁLCOOL</text>
<polygon points="550,729 540,729 540,725 530,732 540,739 540,735 550,735" fill="#e4e4e4"/>

<!-- CAN etc -->
<g>
<rect x="431" y="790" width="20" height="18" class="bx"/><ellipse cx="441" cy="799" rx="4" ry="5" fill="#000" stroke="#ff5fc0"/>
<rect x="431" y="810" width="20" height="18" class="bx"/><ellipse cx="441" cy="819" rx="4" ry="5" fill="#000" stroke="#ff5fc0"/>
<rect x="431" y="839" width="20" height="18" class="bx"/><ellipse cx="441" cy="848" rx="4" ry="5" fill="#000" stroke="#ff5fc0"/>
<rect x="431" y="869" width="20" height="18" class="bx"/><ellipse cx="441" cy="878" rx="4" ry="5" fill="#000" stroke="#ff5fc0"/>
<rect x="431" y="902" width="20" height="18" class="bx"/><ellipse cx="441" cy="911" rx="4" ry="5" fill="#000" stroke="#ff5fc0"/>
<rect x="431" y="921" width="20" height="18" class="bx"/><ellipse cx="441" cy="930" rx="4" ry="5" fill="#000" stroke="#ff5fc0"/>
<rect x="431" y="940" width="20" height="18" class="bx"/><ellipse cx="441" cy="949" rx="4" ry="5" fill="#000" stroke="#ff5fc0"/>
<rect x="431" y="968" width="20" height="18" class="bx"/><ellipse cx="441" cy="977" rx="4" ry="5" fill="#000" stroke="#ff5fc0"/>
<rect x="431" y="1000" width="20" height="18" class="bx"/><ellipse cx="441" cy="1009" rx="4" ry="5" fill="#000" stroke="#ff5fc0"/>
<rect x="431" y="1028" width="20" height="18" class="bx"/><ellipse cx="441" cy="1037" rx="4" ry="5" fill="#000" stroke="#ff5fc0"/>
<rect x="431" y="1047" width="20" height="18" class="bx"/><ellipse cx="441" cy="1056" rx="4" ry="5" fill="#000" stroke="#ff5fc0"/>
</g>
<path d="M312,799 L431,799 M312,819 L431,819 M312,848 L431,848 M312,878 L431,878 M312,911 L431,911 M312,930 L431,930 M312,949 L431,949 M312,977 L431,977 M312,1037 L431,1037 M312,1056 L431,1056 M378,1037 L378,1009 L431,1009" class="wt"/>
<path d="M312,848 L431,848 M312,878 L431,878 M312,977 L431,977" class="w"/>
<circle cx="378" cy="1037" r="1.8" class="dot"/><circle cx="367" cy="1056" r="1.8" class="dot"/>
<circle cx="312" cy="799" r="2.2" class="dot"/><text class="pe" x="309" y="802">A30</text>
<circle cx="312" cy="819" r="2.2" class="dot"/><text class="pe" x="309" y="822">A14</text>
<circle cx="312" cy="848" r="2.2" class="dot"/><text class="pe" x="309" y="851">A9</text>
<circle cx="312" cy="878" r="2.2" class="dot"/><text class="pe" x="309" y="881">A29</text>
<circle cx="312" cy="911" r="2.2" class="dot"/><text class="pe" x="309" y="914">A12</text>
<circle cx="312" cy="930" r="2.2" class="dot"/><text class="pe" x="309" y="933">A27</text>
<circle cx="312" cy="949" r="2.2" class="dot"/><text class="pe" x="309" y="952">A29</text>
<circle cx="312" cy="977" r="2.2" class="dot"/><text class="pe" x="309" y="980">A28</text>
<circle cx="312" cy="1037" r="2.2" class="dot"/><text class="pe" x="309" y="1040">A32</text>
<circle cx="312" cy="1056" r="2.2" class="dot"/><text class="pe" x="309" y="1059">A15</text>
<text class="se" x="426" y="795">CAN L</text><text class="se" x="426" y="815">CAN H</text>
<text class="se" x="426" y="907">Relé 2</text><text class="se" x="426" y="926">Relé 1</text><text class="se" x="426" y="945">Relé Duplo</text>
<text class="s" x="454" y="801">99</text><text class="s" x="454" y="821">75</text><text class="s" x="454" y="850">C7</text><text class="s" x="454" y="880">B</text>
<text class="s" x="454" y="913">85</text><text class="s" x="454" y="932">85</text><text class="s" x="454" y="951">85</text>
<text class="s" x="454" y="1011">13</text><text class="s" x="454" y="1039">2</text><text class="s" x="454" y="1058">7</text>
<text class="l" x="480" y="806">Módulo de Controle</text><text class="l" x="480" y="817">da Carrceria (BCM)</text>
<text class="l" x="480" y="841" style="font-size:6.4px">Módulo de Controle</text><text class="l" x="480" y="850" style="font-size:6.4px">da Direção</text><text class="l" x="480" y="859" style="font-size:6.4px">Elétrica</text>
<text class="l" x="480" y="871">Módulo do</text><text class="l" x="480" y="881">Ventilador</text><text class="l" x="480" y="891">do Radiador</text>
<text class="l" x="480" y="922">Comando dos</text><text class="l" x="480" y="932">Eletroventiladores</text><text class="l" x="480" y="943">do Radiador</text>
<text class="l" x="480" y="980">Relé do Compressor</text>
<text class="l" x="480" y="996">Painel de</text><text class="l" x="480" y="1006">Instrumentos</text><text class="l" x="480" y="1016">Lâmpada</text><text class="l" x="480" y="1026">de Anomolias</text>
<text class="l" x="480" y="1049">Imobilizador</text>
<rect x="551" y="838" width="20" height="59" fill="#e4e4e4"/>
<text transform="translate(561,867) rotate(-90)" style="font-size:6px;fill:#111;text-anchor:middle">COM MODULO</text>
<text transform="translate(568,867) rotate(-90)" style="font-size:6px;fill:#111;text-anchor:middle">RADIADOR</text>
<polygon points="551,875 541,875 541,871 531,878 541,885 541,881 551,881" fill="#e4e4e4"/>
<rect x="551" y="900" width="20" height="59" fill="#e4e4e4"/>
<text transform="translate(561,929) rotate(-90)" style="font-size:6px;fill:#111;text-anchor:middle">SEM MODULO</text>
<text transform="translate(568,929) rotate(-90)" style="font-size:6px;fill:#111;text-anchor:middle">RADIADOR</text>
<polygon points="551,905 541,905 541,901 531,908 541,915 541,911 551,911" fill="#e4e4e4"/>

<!-- diag connector -->
<path d="M367,1056 L367,1199 L402,1199" class="wt"/>
<path d="M404,1083 Q410,1078 418,1082 L446,1088 Q452,1090 451,1096 L449,1222 Q447,1234 436,1234 L414,1234 Q402,1234 401,1222 L399,1092 Q399,1085 404,1083 Z" fill="#ff5fc0"/>
<rect x="416" y="1091" width="16" height="133" fill="#000"/>
<g fill="#000">
<rect x="403" y="1093" width="13" height="12"/><rect x="403" y="1110" width="13" height="12"/><rect x="403" y="1126" width="13" height="12"/><rect x="403" y="1143" width="13" height="12"/><rect x="403" y="1159" width="13" height="12"/><rect x="403" y="1176" width="13" height="12"/><rect x="403" y="1193" width="13" height="12"/><rect x="403" y="1210" width="13" height="12"/>
<rect x="432" y="1093" width="13" height="12"/><rect x="432" y="1110" width="13" height="12"/><rect x="432" y="1126" width="13" height="12"/><rect x="432" y="1143" width="13" height="12"/><rect x="432" y="1159" width="13" height="12"/><rect x="432" y="1176" width="13" height="12"/><rect x="432" y="1193" width="13" height="12"/><rect x="432" y="1210" width="13" height="12"/>
</g>
<g style="font-size:6px;fill:#fff;text-anchor:middle">
<text transform="translate(411,1099) rotate(90)" y="0">1</text><text transform="translate(411,1116) rotate(90)">2</text><text transform="translate(411,1132) rotate(90)">3</text><text transform="translate(411,1149) rotate(90)">4</text><text transform="translate(411,1165) rotate(90)">5</text><text transform="translate(411,1182) rotate(90)">6</text><text transform="translate(411,1199) rotate(90)">7</text><text transform="translate(411,1216) rotate(90)">8</text>
<text transform="translate(440,1099) rotate(90)">9</text><text transform="translate(440,1116) rotate(90)">10</text><text transform="translate(440,1132) rotate(90)">11</text><text transform="translate(440,1149) rotate(90)">12</text><text transform="translate(440,1165) rotate(90)">13</text><text transform="translate(440,1182) rotate(90)">14</text><text transform="translate(440,1199) rotate(90)">15</text><text transform="translate(440,1216) rotate(90)">16</text>
</g>
<path d="M446,1215 L460,1215 L460,1241 L453,1241" class="wt"/>
<g transform="translate(0,0)"><line x1="383" y1="1149" x2="399" y2="1149" class="wt"/><line x1="383" y1="1144" x2="383" y2="1154" class="wt"/><line x1="381" y1="1145" x2="381" y2="1153" class="wt"/><line x1="379" y1="1147" x2="379" y2="1151" class="wt"/>
<line x1="383" y1="1165" x2="399" y2="1165" class="wt"/><line x1="383" y1="1160" x2="383" y2="1170" class="wt"/><line x1="381" y1="1161" x2="381" y2="1169" class="wt"/><line x1="379" y1="1163" x2="379" y2="1167" class="wt"/></g>
<use href="#hx" x="442" y="1241"/><text class="h" x="442" y="1243.5">F13</text>
<text x="440" y="1258" style="font-size:5px;text-anchor:middle">Bateria</text>
<text class="l" x="481" y="1154">Conector</text><text class="l" x="481" y="1165">de Diagnóstico</text>

<!-- brake switch -->
<use href="#hx" x="464" y="1280"/><text class="h" x="464" y="1282.5">F36</text>
<path d="M453,1280 L378,1280 L378,1303 L395,1303" class="wt"/>
<rect x="393" y="1298" width="9" height="60" class="bx"/><rect x="402" y="1294" width="49" height="68" class="bx"/>
<path d="M395,1303 L440,1303 L440,1319 L432,1319 M395,1319 L416,1319 M395,1333 L416,1333 M432,1333 L440,1333 L440,1347 L395,1347" class="pk"/>
<circle cx="418" cy="1319" r="1.8" fill="#3a1a36" class="pk"/><circle cx="430" cy="1319" r="1.8" fill="#3a1a36" class="pk"/><line x1="418" y1="1317" x2="428" y2="1314" class="pk"/>
<circle cx="418" cy="1333" r="1.8" fill="#3a1a36" class="pk"/><circle cx="430" cy="1333" r="1.8" fill="#3a1a36" class="pk"/><line x1="418" y1="1331" x2="428" y2="1328" class="pk"/>
<text class="pn" x="404" y="1301">3</text><text class="pn" x="404" y="1317">2</text><text class="pn" x="404" y="1331">4</text><text class="pn" x="404" y="1345">1</text>
<path d="M312,1319 L395,1319 M312,1333 L395,1333" class="w"/>
<circle cx="312" cy="1319" r="2.2" class="dot"/><text class="pe" x="309" y="1322">A19</text>
<circle cx="312" cy="1333" r="2.2" class="dot"/><text class="pe" x="309" y="1336">A21</text>
<circle cx="367" cy="1333" r="1.8" class="dot"/>
<path d="M395,1347 L378,1347 L378,1371 L453,1371" class="wt"/>
<use href="#hx" x="464" y="1371"/><text class="h" x="464" y="1373.5">F36</text>
<text class="l" x="480" y="1330">Interruptor de Freio</text>

<!-- brake lights -->
<path d="M367,1333 L367,1469 L431,1469" class="wt"/>
<path d="M367,1399 L431,1399 M367,1423 L431,1423 M367,1446 L431,1446" class="w"/>
<circle cx="367" cy="1399" r="1.8" class="dot"/><circle cx="367" cy="1423" r="1.8" class="dot"/><circle cx="367" cy="1446" r="1.8" class="dot"/>
<g>
<rect x="431" y="1390" width="20" height="18" class="bx"/><ellipse cx="441" cy="1399" rx="4" ry="5" fill="#000" stroke="#ff5fc0"/>
<rect x="431" y="1414" width="20" height="18" class="bx"/><ellipse cx="441" cy="1423" rx="4" ry="5" fill="#000" stroke="#ff5fc0"/>
<rect x="431" y="1437" width="20" height="18" class="bx"/><ellipse cx="441" cy="1446" rx="4" ry="5" fill="#000" stroke="#ff5fc0"/>
<rect x="431" y="1460" width="20" height="18" class="bx"/><ellipse cx="441" cy="1469" rx="4" ry="5" fill="#000" stroke="#ff5fc0"/>
</g>
<text class="s" x="455" y="1401">1</text><text class="s" x="455" y="1425">1</text><text class="s" x="455" y="1448">2</text><text class="s" x="455" y="1471">14</text>
<text class="l" x="480" y="1397">Luz de Freio</text><text class="l" x="480" y="1407">Esquerda</text>
<text class="l" x="480" y="1421">Luz de Freio</text><text class="l" x="480" y="1431">Direita</text>
<text class="l" x="480" y="1444">Luz de Freio</text><text class="l" x="480" y="1454">Suplementar</text>
<text class="l" x="480" y="1472">ABS</text>
</svg>
</body></html>
